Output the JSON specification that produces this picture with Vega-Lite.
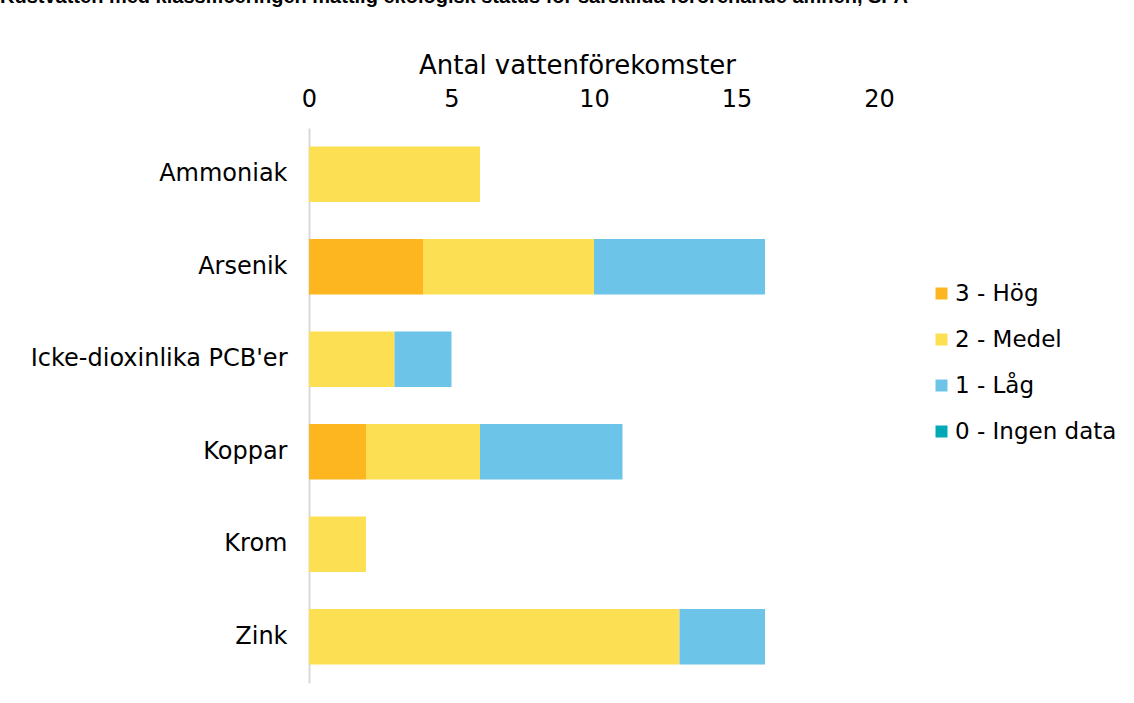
{
  "$schema": "https://vega.github.io/schema/vega-lite/v6.json",
  "autosize": {"type": "none"},
  "padding": {"left": 309, "top": 128, "right": 255, "bottom": 20},
  "width": 570,
  "height": 555,
  "title": {
    "text": "Kustvatten med klassificeringen måttlig ekologisk status för särskilda förorenande ämnen, SFÄ",
    "anchor": "start",
    "frame": "group",
    "fontSize": 20,
    "fontWeight": "bold",
    "font": "Liberation Sans",
    "color": "#000000",
    "dx": -309,
    "dy": -41
  },
  "data": {
    "values": [
      {"amne": "Ammoniak", "klass": "2 - Medel", "rank": 2, "antal": 6},
      {"amne": "Arsenik", "klass": "3 - Hög", "rank": 1, "antal": 4},
      {"amne": "Arsenik", "klass": "2 - Medel", "rank": 2, "antal": 6},
      {"amne": "Arsenik", "klass": "1 - Låg", "rank": 3, "antal": 6},
      {"amne": "Icke-dioxinlika PCB'er", "klass": "2 - Medel", "rank": 2, "antal": 3},
      {"amne": "Icke-dioxinlika PCB'er", "klass": "1 - Låg", "rank": 3, "antal": 2},
      {"amne": "Koppar", "klass": "3 - Hög", "rank": 1, "antal": 2},
      {"amne": "Koppar", "klass": "2 - Medel", "rank": 2, "antal": 4},
      {"amne": "Koppar", "klass": "1 - Låg", "rank": 3, "antal": 5},
      {"amne": "Krom", "klass": "2 - Medel", "rank": 2, "antal": 2},
      {"amne": "Zink", "klass": "2 - Medel", "rank": 2, "antal": 13},
      {"amne": "Zink", "klass": "1 - Låg", "rank": 3, "antal": 3}
    ]
  },
  "mark": {"type": "bar"},
  "encoding": {
    "y": {
      "field": "amne",
      "type": "nominal",
      "sort": null,
      "scale": {"paddingInner": 0.4, "paddingOuter": 0.2},
      "axis": {
        "title": null,
        "ticks": false,
        "domain": true,
        "domainColor": "#d9d9d9",
        "domainWidth": 2,
        "labelPadding": 22,
        "labelFontSize": 24,
        "labelFont": "DejaVu Sans",
        "labelColor": "#000000",
        "labelLimit": 0
      }
    },
    "x": {
      "field": "antal",
      "type": "quantitative",
      "stack": "zero",
      "scale": {"domain": [0, 20], "nice": false},
      "axis": {
        "orient": "top",
        "title": "Antal vattenförekomster",
        "titleFontSize": 26,
        "titleFontWeight": "normal",
        "titleFont": "DejaVu Sans",
        "titleColor": "#000000",
        "titlePadding": 9,
        "titleX": 268,
        "titleAlign": "center",
        "values": [0, 5, 10, 15, 20],
        "grid": false,
        "ticks": false,
        "domain": false,
        "labelFlush": false,
        "labelPadding": 17,
        "labelFontSize": 24,
        "labelFont": "DejaVu Sans",
        "labelColor": "#000000"
      }
    },
    "color": {
      "field": "klass",
      "type": "nominal",
      "scale": {
        "domain": ["3 - Hög", "2 - Medel", "1 - Låg", "0 - Ingen data"],
        "range": ["#FDB620", "#FCDF52", "#6CC4E8", "#00A9B5"]
      },
      "legend": {
        "title": null,
        "orient": "none",
        "legendX": 621,
        "legendY": 154,
        "symbolType": "square",
        "symbolSize": 144,
        "symbolStrokeWidth": 0,
        "labelFontSize": 23,
        "labelFont": "DejaVu Sans",
        "labelColor": "#000000",
        "labelLimit": 0,
        "rowPadding": 22,
        "labelOffset": 2
      }
    },
    "order": {"field": "rank", "type": "quantitative"}
  },
  "config": {
    "view": {"stroke": null},
    "background": "#ffffff"
  }
}
